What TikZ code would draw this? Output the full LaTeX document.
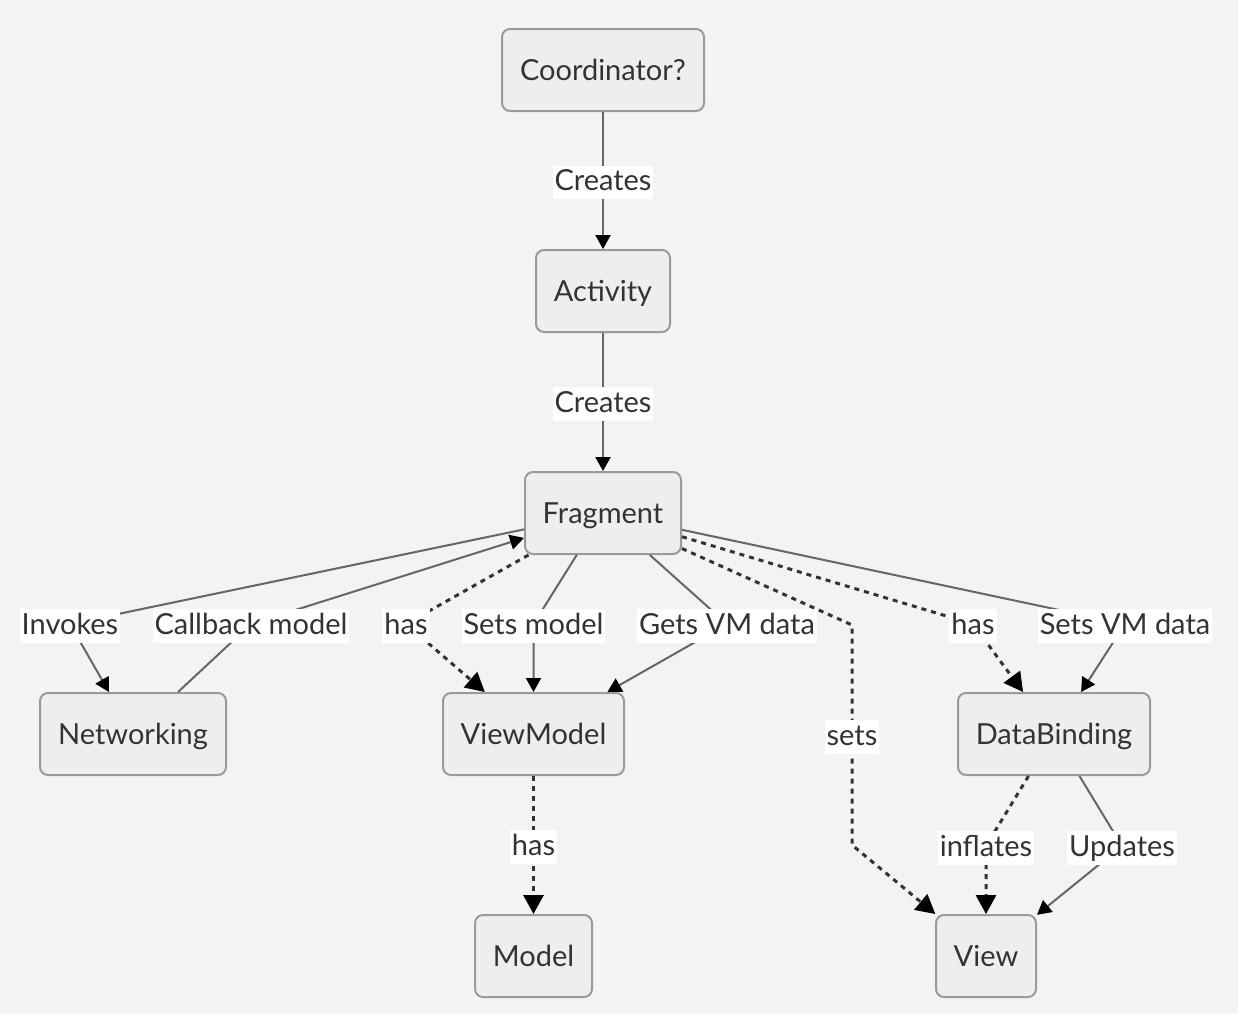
\documentclass[tikz,border=0pt]{standalone}
\usepackage{fontspec}
\setmainfont{Lato}
\usetikzlibrary{arrows.meta}
\definecolor{bg}{HTML}{F3F3F3}
\definecolor{boxfill}{HTML}{EEEEEE}
\definecolor{boxline}{HTML}{9A9A9A}
\definecolor{txt}{HTML}{333333}
\definecolor{linkgray}{HTML}{666666}
\tikzset{
  box/.style={draw=boxline, fill=boxfill, line width=1pt, rounded corners=4pt,
    minimum height=41pt, minimum width=#1*0.5pt, inner xsep=0pt, text=txt,
    text height=10.4pt, text depth=0pt,
    font=\fontsize{14.5}{17}\selectfont},
  lbl/.style={fill=white, inner xsep=1pt, inner ysep=2pt, text=txt,
    text height=10.4pt, text depth=2.4pt, yshift=-1pt,
    font=\fontsize{14.5}{17}\selectfont},
  link/.style={draw=linkgray, line width=1pt,
    -{Triangle[length=7pt,width=7.5pt,color=black]}},
  dotline/.style={draw=txt, line width=1.5pt, dash pattern=on 2.5pt off 2.5pt,
    -{Triangle[length=9.5pt,width=10pt,color=black]}},
}
\begin{document}
\begin{tikzpicture}[x=0.5pt,y=-0.5pt]
\fill[bg] (0,0) rectangle (1238,1014);
\useasboundingbox (0,0) rectangle (1238,1014);
% boxes
\node[box=202] (coord) at (603,70) {Coordinator?};
\node[box=134] (act) at (603,291) {Activity};
\node[box=156] (frag) at (603,513) {Fragment};
\node[box=186] (net) at (133,734) {Networking};
\node[box=181] (vm) at (533.5,734) {ViewModel};
\node[box=192] (db) at (1054,734) {DataBinding};
\node[box=117] (model) at (533.5,956) {Model};
\node[box=100] (view) at (986,956) {View};
% bends
\coordinate (inv) at (70,624);
\coordinate (cb) at (251,624);
\coordinate (hasvm) at (406,624);
\coordinate (setm) at (533.5,624);
\coordinate (getvm) at (727,624);
\coordinate (sets1) at (852,625);
\coordinate (sets2) at (852,845);
\coordinate (hasdb) at (973,624);
\coordinate (setvm) at (1125,624);
\coordinate (infl) at (986,846);
\coordinate (upd) at (1122,846);
% links
\draw[link] (coord) -- node[lbl]{Creates} (act);
\draw[link] (act) -- node[lbl]{Creates} (frag);
\draw[link] (frag) -- (inv) node[lbl]{Invokes} -- (net);
\draw[link] (net) -- (cb) node[lbl]{Callback model} -- (frag);
\draw[dotline] (frag) -- (hasvm) node[lbl]{has} -- (vm);
\draw[link] (frag) -- (setm) node[lbl]{Sets model} -- (vm);
\draw[link] (frag) -- (getvm) node[lbl]{Gets VM data} -- (vm);
\draw[dotline] (frag) -- (sets1) -- node[lbl]{sets} (sets2) -- (view);
\draw[dotline] (frag) -- (hasdb) node[lbl]{has} -- (db);
\draw[link] (frag) -- (setvm) node[lbl]{Sets VM data} -- (db);
\draw[dotline] (vm) -- node[lbl]{has} (model);
\draw[dotline] (db) -- (infl) node[lbl]{inflates} -- (view);
\draw[link] (db) -- (upd) node[lbl]{Updates} -- (view);
\end{tikzpicture}
\end{document}
